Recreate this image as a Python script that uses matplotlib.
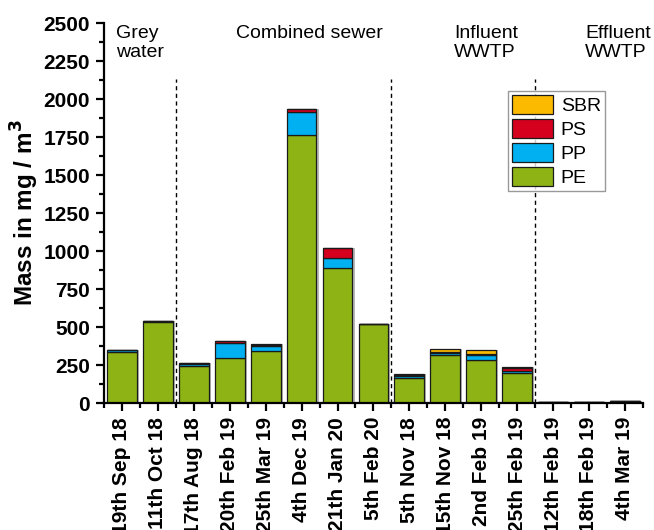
import matplotlib
matplotlib.use("Agg")
import matplotlib.pyplot as plt
from matplotlib.ticker import MultipleLocator
from matplotlib.patches import Patch
import numpy as np

plt.rcParams['font.family'] = ['Liberation Sans', 'DejaVu Sans']

categories = ["19th Sep 18", "11th Oct 18", "17th Aug 18", "20th Feb 19", "25th Mar 19",
              "4th Dec 19", "21th Jan 20", "5th Feb 20", "5th Nov 18", "15th Nov 18",
              "2nd Feb 19", "25th Feb 19", "12th Feb 19", "18th Feb 19", "4th Mar 19"]
PE = [335, 530, 245, 295, 343, 1760, 887, 518, 165, 317, 282, 199, 4, 5, 12]
PP = [12, 8, 12, 103, 35, 153, 68, 0, 12, 15, 35, 10, 1, 1, 2]
PS = [3, 3, 3, 10, 5, 22, 68, 0, 5, 5, 5, 22, 0, 0, 1]
SBR = [0, 0, 0, 3, 3, 0, 0, 0, 10, 20, 28, 3, 0, 0, 0]
series_names = ["PE", "PP", "PS", "SBR"]
group_labels = ["Grey\nwater", "Combined sewer", "Influent\nWWTP", "Effluent\nWWTP"]
group_breaks = [1.5, 7.5, 11.5]

colors = {"PE": "#8DB414", "PP": "#00B0F0", "PS": "#D5001E", "SBR": "#FBB900"}

fig = plt.figure(figsize=(6.54, 5.30), dpi=100)
ax = fig.add_axes([0.159, 0.2396, 0.824, 0.717])

x = np.arange(len(categories))
w = 0.83
data = {"PE": PE, "PP": PP, "PS": PS, "SBR": SBR}
totals = np.sum([np.array(data[s]) for s in series_names], axis=0)

# shadow
ax.bar(x + 0.06, totals, width=w, color="#7f7f7f", alpha=0.55, zorder=1, linewidth=0)

bottom = np.zeros(len(categories))
for s in series_names:
    vals = np.array(data[s], dtype=float)
    ax.bar(x, vals, width=w, bottom=bottom, color=colors[s], edgecolor="#1a1a1a",
           linewidth=0.9, zorder=2)
    bottom += vals

for b in group_breaks:
    ax.plot([b, b], [0, 2130], color="black", lw=1.0, ls=(0, (3, 2.5)), zorder=3)

ax.text(-0.17, 2490, group_labels[0], ha="left", va="top", fontsize=14, linespacing=1.2)
ax.text(5.21, 2490, group_labels[1], ha="center", va="top", fontsize=14)
ax.text(9.24, 2490, group_labels[2], ha="left", va="top", fontsize=14, linespacing=1.2)
ax.text(12.89, 2490, group_labels[3], ha="left", va="top", fontsize=14, linespacing=1.2)

ax.set_xlim(-0.5, 14.5)
ax.set_ylim(0, 2500)
ax.set_xticks(x)
ax.set_xticklabels(categories, rotation=90, fontsize=15, fontweight="bold")
ax.xaxis.set_minor_locator(MultipleLocator(1, offset=0.5))
ax.yaxis.set_major_locator(MultipleLocator(250))
ax.yaxis.set_minor_locator(MultipleLocator(125))
ax.tick_params(axis="both", which="major", direction="out", length=6, width=1.6, pad=4)
ax.tick_params(axis="both", which="minor", direction="out", length=3.5, width=1.6)
ax.tick_params(axis="y", labelsize=15)
for lab in ax.get_yticklabels():
    lab.set_fontweight("bold")

for side in ["top", "right"]:
    ax.spines[side].set_visible(False)
for side in ["left", "bottom"]:
    ax.spines[side].set_linewidth(1.6)

ax.set_ylabel("Mass in mg / m$^\\mathbf{3}$", fontsize=17.5, fontweight="bold", labelpad=2)

handles = [Patch(facecolor=colors[s], edgecolor="#1a1a1a", linewidth=0.9) for s in ["SBR", "PS", "PP", "PE"]]
leg = ax.legend(handles, ["SBR", "PS", "PP", "PE"], loc="upper left", bbox_to_anchor=(0.75, 0.822),
                fontsize=14, frameon=True, fancybox=False, edgecolor="#808080",
                handlelength=2.1, handleheight=1.15, labelspacing=0.2, handletextpad=0.4,
                borderpad=0.2, borderaxespad=0)
leg.get_frame().set_linewidth(1.0)

fig.savefig("out.png", dpi=100)
